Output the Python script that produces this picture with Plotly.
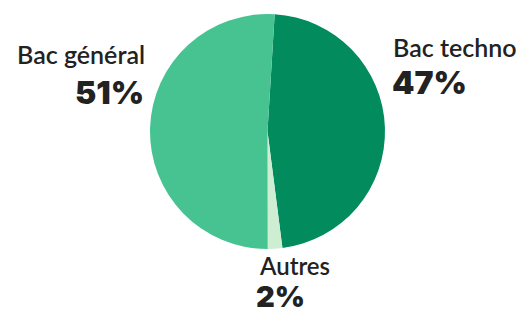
import plotly.graph_objects as go

labels = ["Bac techno", "Autres", "Bac général"]
values = [47, 2, 51]
pct_text = ["47%", "2%", "51%"]
colors = ["#028c5e", "#cdeed3", "#47c392"]

W, H = 520, 316
fig = go.Figure(go.Pie(
    labels=labels, values=values, sort=False, direction="clockwise",
    rotation=3.5, marker=dict(colors=colors, line=dict(width=0)),
    textinfo="none", hoverinfo="label+percent", showlegend=False,
    domain=dict(x=[150/W, 385/W], y=[(H-249)/H, (H-14)/H]),
))

def px(x): return x / W
def py(y): return (H - y) / H

lab_font = dict(family="Lato", size=25, color="#222222", weight=600)
pct_font = dict(family="Inter", size=32, color="#222222", weight=900)

ann = [
    dict(text=labels[2], x=px(147), y=py(54), xanchor="right", yanchor="middle", font=lab_font),
    dict(text=pct_text[2], x=px(146), y=py(92), xanchor="right", yanchor="middle", font=pct_font),
    dict(text=labels[0], x=px(391), y=py(47), xanchor="left", yanchor="middle", font=lab_font),
    dict(text=pct_text[0], x=px(390), y=py(82), xanchor="left", yanchor="middle", font=pct_font),
    dict(text=labels[1], x=px(294), y=py(265), xanchor="center", yanchor="middle",
         font=dict(lab_font, size=24)),
    dict(text=pct_text[1], x=px(280), y=0, xanchor="center", yanchor="bottom",
         font=dict(pct_font, size=29)),
]
for a in ann:
    a.update(xref="paper", yref="paper", showarrow=False)

fig.update_layout(width=W, height=H, margin=dict(l=0, r=0, t=0, b=0),
                  paper_bgcolor="white", plot_bgcolor="white", annotations=ann)
fig.write_html("out.html", config={"displayModeBar": False},
               post_script="document.body.style.margin='0';")
